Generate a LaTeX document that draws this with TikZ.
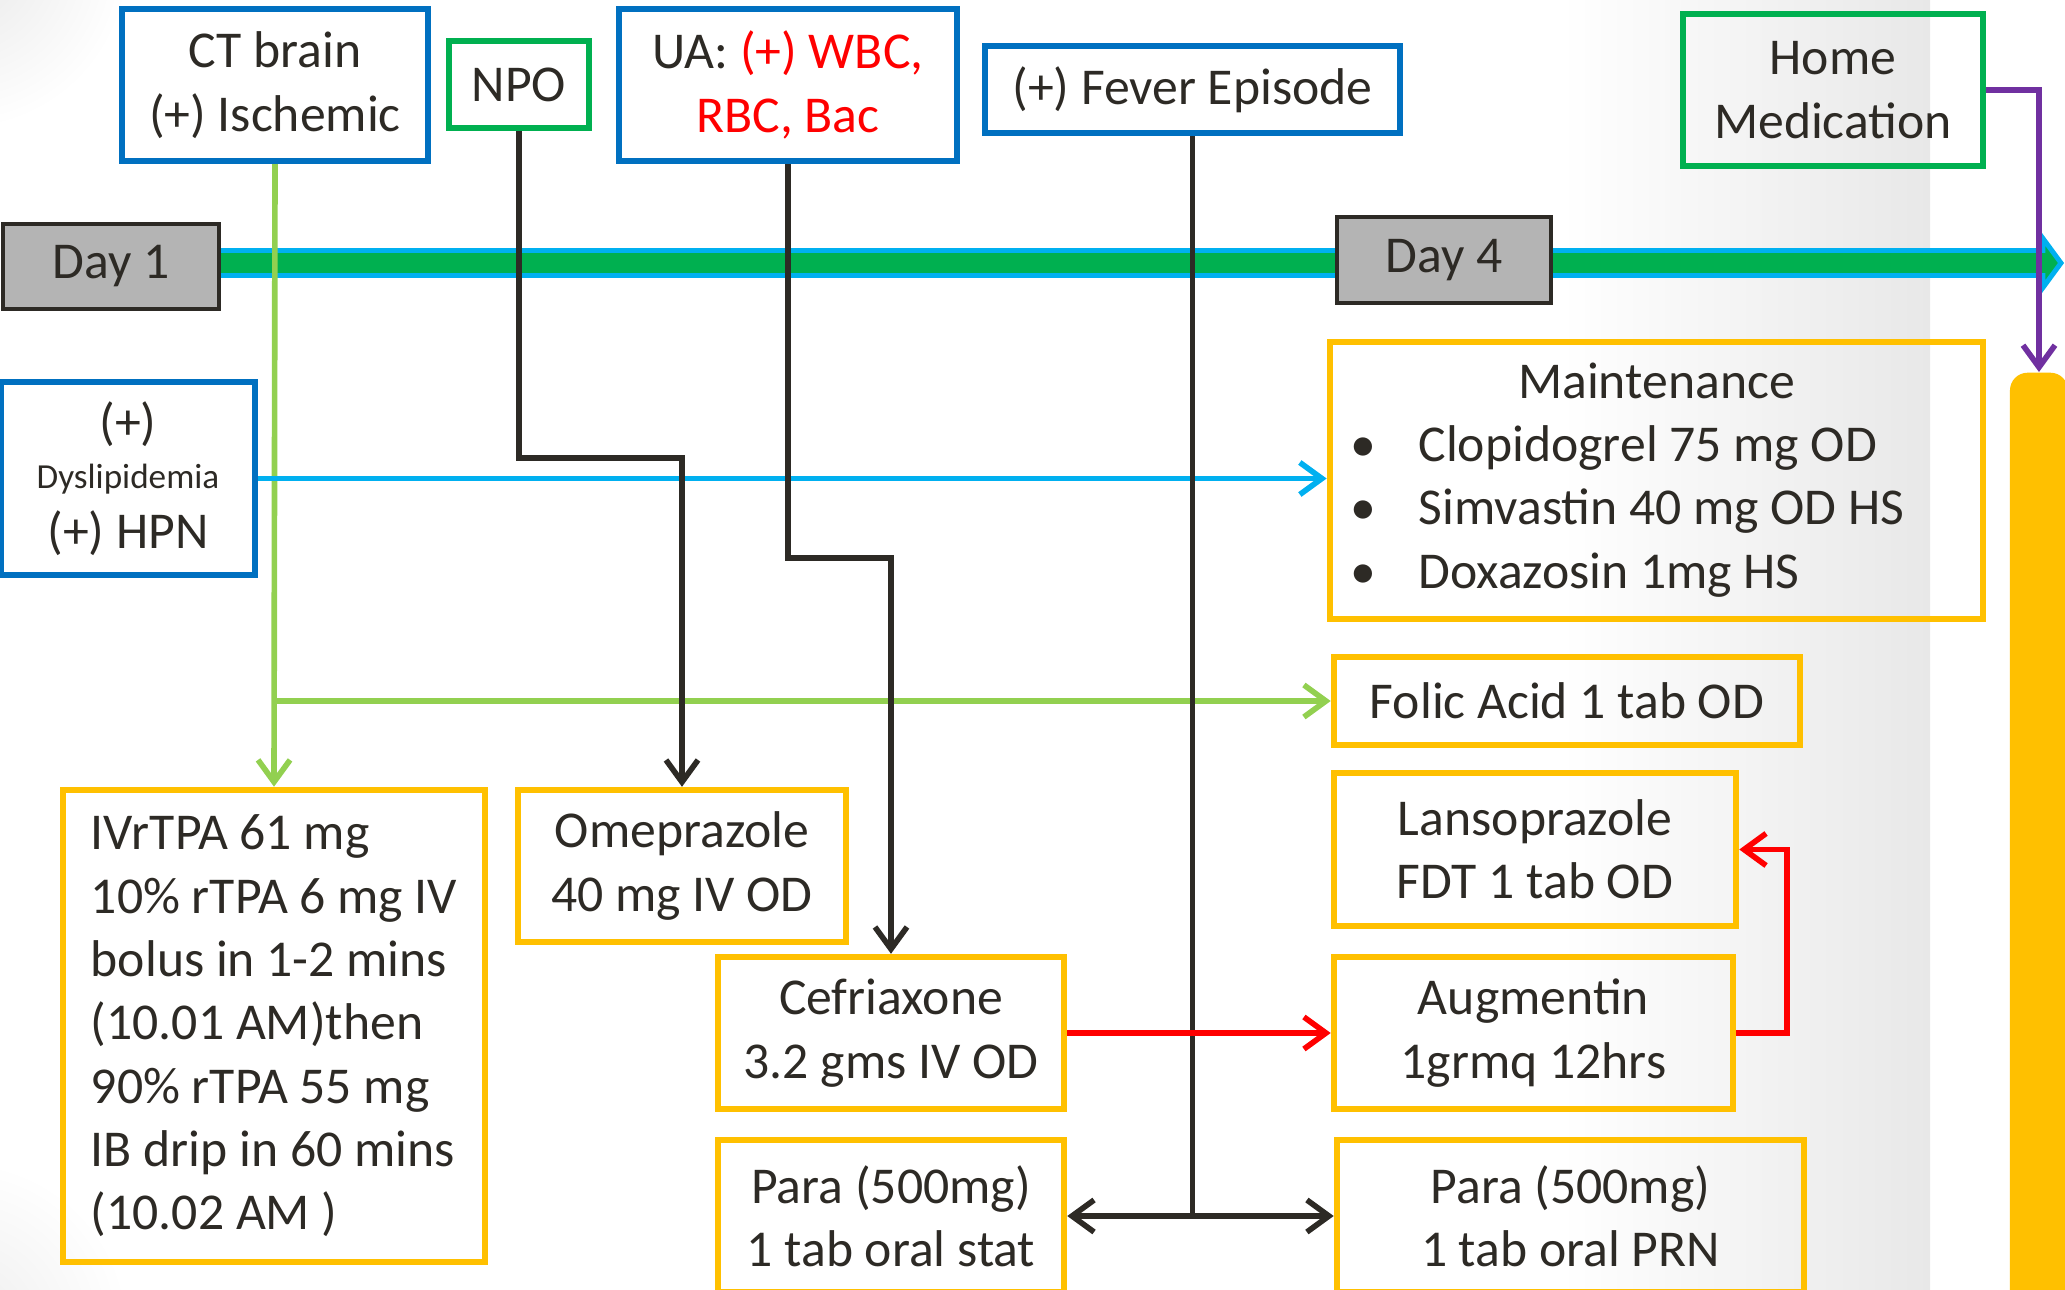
\documentclass[tikz,border=0pt]{standalone}
\usepackage{fontspec}
\setmainfont{Carlito}
\usetikzlibrary{arrows.meta}
\definecolor{evblue}{HTML}{0070C0}
\definecolor{evgreen}{HTML}{00B050}
\definecolor{rxgold}{HTML}{FFC000}
\definecolor{linkgreen}{HTML}{92D050}
\definecolor{linkblue}{HTML}{00B0F0}
\definecolor{linkred}{HTML}{FF0000}
\definecolor{linkpurple}{HTML}{7030A0}
\definecolor{ink}{HTML}{2D2A25}
\definecolor{daygray}{HTML}{B4B4B4}

\begin{document}
\begin{tikzpicture}[
  x=0.01cm, y=-0.01cm,
  font=\fontsize{14.7}{18}\selectfont, text=ink,
  evbox/.style={draw=evblue, line width=1.8pt, align=center, inner sep=0pt},
  notebox/.style={draw=evgreen, line width=1.8pt, align=center, inner sep=0pt},
  rxbox/.style={draw=rxgold, line width=1.8pt, align=center, inner sep=0pt},
  daybox/.style={draw=ink, line width=1.1pt, fill=daygray, inner sep=0pt},
  barb/.style={-{Straight Barb[length=2.2mm, width=3.2mm]}, line width=1.6pt},
  glink/.style={barb, linkgreen},
  blink/.style={barb, linkblue},
  klink/.style={barb, ink},
  rlink/.style={barb, linkred},
  plink/.style={barb, linkpurple},
]
\useasboundingbox (0,0) rectangle (2065,1290);

% background shading
\shade[left color=white, right color=black!9] (1560,0) rectangle (1930,1290);
\shade[inner color=black!9, outer color=white] (-40,-40) circle (170);
\shade[inner color=black!7, outer color=white] (-40,1330) circle (170);

% =========================== timeline ===========================
\filldraw[draw=linkblue, fill=evgreen, line width=1.4pt, line join=miter]
  (150,250.5) -- (2043,250.5) -- (2043,238.5) -- (2061,263) -- (2043,287.5)
  -- (2043,275.5) -- (150,275.5) -- cycle;
\node[daybox, minimum width=2.16cm, minimum height=0.85cm] (day1) at (111,266.5) {Day 1};
\node[daybox, minimum width=2.14cm, minimum height=0.86cm] (day4) at (1444,260) {Day 4};

% =========================== events (top) ===========================
\node[evbox, minimum width=3.06cm, minimum height=1.52cm] (ctbrain) at (275,85) {CT brain\\(+) Ischemic};
\node[notebox, minimum width=1.40cm, minimum height=0.87cm] (npo) at (519,84.5) {NPO};
\node[evbox, minimum width=3.38cm, minimum height=1.52cm] (ua) at (788,85)
  {UA: \textcolor{linkred}{(+) WBC,}\\\textcolor{linkred}{RBC, Bac}};
\node[evbox, minimum width=4.15cm, minimum height=0.87cm] (fever) at (1192.5,89.5) {(+) Fever Episode};
\node[notebox, minimum width=3.00cm, minimum height=1.52cm] (homemed) at (1833,90) {Home\\Medication};
\node[evbox, minimum width=2.54cm, minimum height=1.93cm] (dyslip) at (128,478.5)
  {(+)\\[-4pt]{\fontsize{10}{12}\selectfont Dyslipidemia}\\[-1pt](+) HPN};

% =========================== medications ===========================
\node[rxbox, minimum width=6.53cm, minimum height=2.77cm] (maint) at (1656.5,480.5)
  {\begin{tabular}{@{}l@{\hspace{12pt}}l@{\hspace{16.5pt}}}
     \multicolumn{2}{c}{Maintenance}\\
     \textbullet & Clopidogrel 75 mg OD\\
     \textbullet & Simvastin 40 mg OD HS\\
     \textbullet & Doxazosin 1mg HS
   \end{tabular}};
\node[rxbox, minimum width=4.66cm, minimum height=0.88cm] (folic) at (1567,701) {Folic Acid 1 tab OD};
\node[rxbox, minimum width=4.22cm, minimum height=4.72cm, align=left] (ivrtpa) at (274,1026)
  {IVrTPA 61 mg\\10\% rTPA 6 mg IV\\bolus in 1-2 mins\\(10.01 AM)then\\90\% rTPA 55 mg\\IB drip in 60 mins\\(10.02 AM )};
\node[rxbox, minimum width=3.28cm, minimum height=1.52cm] (omep) at (682,866) {Omeprazole\\40 mg IV OD};
\node[rxbox, minimum width=4.02cm, minimum height=1.53cm] (lanso) at (1535,849.5) {Lansoprazole\\FDT 1 tab OD};
\node[rxbox, minimum width=3.46cm, minimum height=1.52cm] (cefx) at (891,1033) {Cefriaxone\\3.2 gms IV OD};
\node[rxbox, minimum width=3.99cm, minimum height=1.52cm] (augm) at (1533.5,1033) {Augmentin\\1grmq 12hrs};
\node[rxbox, minimum width=3.46cm, minimum height=1.52cm] (parastat) at (891,1216) {Para (500mg)\\1 tab oral stat};
\node[rxbox, minimum width=4.67cm, minimum height=1.52cm] (paraprn) at (1570.5,1216) {Para (500mg)\\1 tab oral PRN};
\node[fill=rxgold, rounded corners=5pt, minimum width=0.58cm, minimum height=9.6cm, anchor=north] (hbar) at (2039,372) {};

% =========================== connectors ===========================
\coordinate (npojog) at (0,458);
\coordinate (uajog) at (0,558);
\coordinate (redcol) at (1787,940);

\draw[glink] (ctbrain.south) -- (ivrtpa.north);
\draw[glink] (ctbrain.south |- folic.west) -- (folic.west);
\draw[blink] (dyslip.east) -- (dyslip.east -| maint.west);
\draw[klink] (npo.south) |- (npojog -| omep.north) -- (omep.north);
\draw[klink] (ua.south) |- (uajog -| cefx.north) -- (cefx.north);
\draw[ink, line width=1.6pt] (fever.south) -- (fever.south |- parastat.east);
\draw[klink, {Straight Barb[length=2.2mm, width=3.2mm]}-{Straight Barb[length=2.2mm, width=3.2mm]}]
  (parastat.east) -- (paraprn.west);
\draw[rlink] (cefx.east) -- (augm.west);
\draw[rlink] (augm.east) -| (redcol) |- (lanso.east);
\draw[plink] (homemed.east) -| (hbar.north);

\end{tikzpicture}
\end{document}
